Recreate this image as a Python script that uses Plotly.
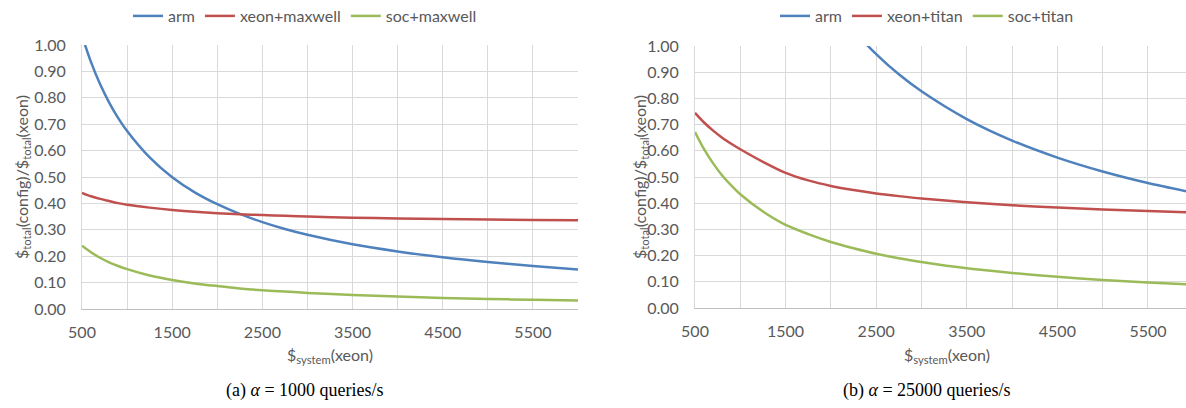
import plotly.graph_objects as go

# ---- data ----
x_vals = [500, 600, 700, 800, 900, 1000, 1250, 1500, 1750, 2000, 2250, 2500,
          2750, 3000, 3500, 4000, 4500, 5000, 5500, 6000]

# (a) alpha = 1000 queries/s
arm_a = [1.035, 0.935, 0.852, 0.783, 0.724, 0.674, 0.574, 0.499, 0.442, 0.397,
         0.360, 0.329, 0.303, 0.281, 0.245, 0.218, 0.196, 0.178, 0.163, 0.150]
xeon_maxwell = [0.440, 0.427, 0.417, 0.409, 0.401, 0.395, 0.384, 0.375, 0.368, 0.363,
                0.359, 0.356, 0.353, 0.350, 0.346, 0.343, 0.341, 0.339, 0.337, 0.336]
soc_maxwell = [0.240, 0.215, 0.194, 0.177, 0.163, 0.151, 0.127, 0.110, 0.097, 0.087,
               0.078, 0.071, 0.066, 0.061, 0.053, 0.047, 0.042, 0.038, 0.035, 0.032]

# (b) alpha = 25000 queries/s
arm_b = [3.10, 2.79, 2.54, 2.33, 2.15, 2.00, 1.70, 1.48, 1.30, 1.17,
         1.060, 0.969, 0.892, 0.827, 0.721, 0.639, 0.574, 0.521, 0.477, 0.440]
xeon_titan = [0.745, 0.708, 0.677, 0.650, 0.627, 0.606, 0.558, 0.516, 0.487, 0.466,
              0.450, 0.437, 0.427, 0.418, 0.404, 0.392, 0.384, 0.376, 0.370, 0.365]
soc_titan = [0.672, 0.606, 0.552, 0.506, 0.468, 0.434, 0.368, 0.317, 0.282, 0.252,
             0.228, 0.207, 0.190, 0.176, 0.152, 0.134, 0.119, 0.107, 0.097, 0.089]

y_ticks = [0.0, 0.1, 0.2, 0.3, 0.4, 0.5, 0.6, 0.7, 0.8, 0.9, 1.0]
x_tick_labels = [500, 1500, 2500, 3500, 4500, 5500]

BLUE, RED, GREEN = "#4F81BD", "#C0504D", "#9BBB59"
GRAY_TXT = "#595959"
GRID = "#D9D9D9"
W, H = 1186, 408

fig = go.Figure()

def add(x, y, name, color, xa, ya, leg):
    fig.add_trace(go.Scatter(x=x, y=y, name=name, mode="lines",
                             line=dict(color=color, width=2.5, shape="spline", smoothing=0.8),
                             xaxis=xa, yaxis=ya, legend=leg))

add(x_vals, arm_a, "arm", BLUE, "x", "y", "legend")
add(x_vals, xeon_maxwell, "xeon+maxwell", RED, "x", "y", "legend")
add(x_vals, soc_maxwell, "soc+maxwell", GREEN, "x", "y", "legend")
add(x_vals, arm_b, "arm", BLUE, "x2", "y2", "legend2")
add(x_vals, xeon_titan, "xeon+titan", RED, "x2", "y2", "legend2")
add(x_vals, soc_titan, "soc+titan", GREEN, "x2", "y2", "legend2")

tick_font = dict(family="Lato, Noto Sans, sans-serif", size=16, color=GRAY_TXT)

def xaxis_cfg(dom, rng, anchor):
    return dict(domain=dom, range=rng, anchor=anchor, automargin=False,
                tickmode="array", tickvals=x_tick_labels,
                ticktext=[str(v) for v in x_tick_labels],
                showgrid=True, gridcolor=GRID, gridwidth=1,
                minor=dict(tickmode="linear", tick0=500, dtick=500, showgrid=True,
                           gridcolor=GRID, gridwidth=1),
                showline=True, linecolor="#BFBFBF", linewidth=1,
                zeroline=False, ticks="", tickfont=tick_font,
                ticklabelstandoff=9, fixedrange=True)

def yaxis_cfg(dom, anchor):
    return dict(domain=dom, range=[0, 1], anchor=anchor, automargin=False,
                tickmode="array", tickvals=y_ticks,
                ticktext=[f"{v:.2f}" for v in y_ticks],
                showgrid=True, gridcolor=GRID, gridwidth=1,
                showline=True, linecolor=GRID, linewidth=1,
                zeroline=False, ticks="", tickfont=tick_font,
                ticklabelstandoff=12, fixedrange=True)

fig.update_layout(
    width=W, height=H,
    margin=dict(l=0, r=0, t=0, b=0, autoexpand=False),
    paper_bgcolor="white", plot_bgcolor="white",
    xaxis=xaxis_cfg([82 / W, 578 / W], [500, 6000], "y"),
    yaxis=yaxis_cfg([1 - 309 / H, 1 - 45 / H], "x"),
    xaxis2=xaxis_cfg([695 / W, 1.0], [500, 5920], "y2"),
    yaxis2=yaxis_cfg([1 - 308 / H, 1 - 46 / H], "x2"),
    legend=dict(orientation="h", x=305 / W, xanchor="center", y=1 - 16 / H,
                yanchor="middle", font=dict(family="Lato, sans-serif", size=16, color=GRAY_TXT),
                itemwidth=30, bgcolor="rgba(0,0,0,0)"),
    legend2=dict(orientation="h", x=927 / W, xanchor="center", y=1 - 16 / H,
                 yanchor="middle", font=dict(family="Lato, sans-serif", size=16, color=GRAY_TXT),
                 itemwidth=30, bgcolor="rgba(0,0,0,0)"),
    showlegend=True,
)

ytitle = "$<sub>total</sub>(config)/$<sub>total</sub>(xeon)"
xtitle = "$<sub>system</sub>(xeon)"
title_font = dict(family="Lato, sans-serif", size=16, color=GRAY_TXT)
cap_font = dict(family="Liberation Serif, Times New Roman, serif", size=18, color="black")

annos = [
    dict(text=ytitle, x=22 / W, y=1 - 177 / H, textangle=-90, font=title_font),
    dict(text=ytitle, x=640 / W, y=1 - 177 / H, textangle=-90, font=title_font),
    dict(text=xtitle, x=330 / W, y=1 - 355 / H, font=title_font),
    dict(text=xtitle, x=947 / W, y=1 - 355 / H, font=title_font),
    dict(text="(a) <i>α</i> = 1000 queries/s", x=305 / W, y=1 - 390 / H, font=cap_font),
    dict(text="(b) <i>α</i> = 25000 queries/s", x=927 / W, y=1 - 390 / H, font=cap_font),
]
for a in annos:
    fig.add_annotation(xref="paper", yref="paper", showarrow=False,
                       xanchor="center", yanchor="middle", **a)

fig.write_html("out.html")
